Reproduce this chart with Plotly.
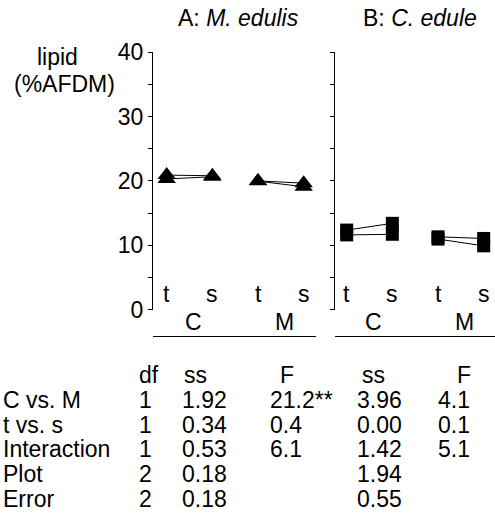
import plotly.graph_objects as go

W, H = 495, 518
FONT = "Liberation Sans, Arial, sans-serif"
FS = 23

def px_x(x):
    return x / W

def px_y(y):
    return 1 - y / H

# ---- data ----
positions = [0, 1, 2, 3]
level_labels = ["t", "s", "t", "s"]
group_labels = ["C", "M"]
group_centers = [0.58, 2.57]

# Panel A: M. edulis (two plots per site), lipid %AFDM
a_c_t = [20.9, 20.3]
a_c_s = [20.8, 20.65]
a_m_t = [20.0, 19.95]
a_m_s = [19.65, 19.1]
# Panel B: C. edule
b_c_t = [12.35, 11.6]
b_c_s = [13.4, 11.7]
b_m_t = [11.3, 10.95]
b_m_s = [11.05, 9.9]

y_ticks = [0, 10, 20, 30, 40]

row_names = ["C vs. M", "t vs. s", "Interaction", "Plot", "Error"]
df_vals = ["1", "1", "1", "2", "2"]
a_ss = ["1.92", "0.34", "0.53", "0.18", "0.18"]
a_F = ["21.2**", "0.4", "6.1", "", ""]
b_ss = ["3.96", "0.00", "1.42", "1.94", "0.55"]
b_F = ["4.1", "0.1", "5.1", "", ""]

fig = go.Figure()

def add_pairs(t_vals, s_vals, g, xa, ya, symbol, size):
    for t, s in zip(t_vals, s_vals):
        fig.add_trace(go.Scatter(
            x=[positions[2 * g], positions[2 * g + 1]], y=[t, s],
            mode="lines+markers", xaxis=xa, yaxis=ya,
            line=dict(color="black", width=1),
            marker=dict(symbol=symbol, size=size, color="black"),
            showlegend=False, hoverinfo="skip", cliponaxis=False))

add_pairs(a_c_t, a_c_s, 0, "x", "y", "triangle-up", 16)
add_pairs(a_m_t, a_m_s, 1, "x", "y", "triangle-up", 16)
add_pairs(b_c_t, b_c_s, 0, "x2", "y2", "square", 13)
add_pairs(b_m_t, b_m_s, 1, "x2", "y2", "square", 13)

ydom = [px_y(309.5), px_y(52.3)]
xline_pos = px_y(335.5)

common_x = dict(showgrid=False, zeroline=False, showticklabels=False, ticks="",
                showline=True, linecolor="black", linewidth=1, anchor="free",
                position=xline_pos, fixedrange=True, automargin=False)
common_y = dict(domain=ydom, range=[0, 40], showgrid=False, zeroline=False,
                showline=True, linecolor="black", linewidth=1,
                ticks="outside", ticklen=4, tickcolor="black",
                tickvals=y_ticks, automargin=False, fixedrange=True,
                minor=dict(dtick=5, ticks="outside", ticklen=4, tickcolor="black"))

fig.update_layout(
    template="none",
    width=W, height=H, autosize=False,
    margin=dict(l=0, r=0, t=0, b=0, pad=0),
    paper_bgcolor="white", plot_bgcolor="white",
    font=dict(family=FONT, size=FS, color="black"),
    xaxis=dict(domain=[px_x(153), px_x(316)], range=[-0.3, 3.27], **common_x),
    xaxis2=dict(domain=[px_x(335), 1.0], range=[-0.256, 3.248], **common_x),
    yaxis=dict(anchor="x", showticklabels=True,
               tickfont=dict(size=FS, family=FONT, color="black"), **common_y),
    yaxis2=dict(anchor="x2", showticklabels=False, **common_y),
)

ann = []
def text(x, y, s, xref="paper", xanchor="center"):
    ann.append(dict(x=x, y=y, xref=xref, yref="paper", text=s, showarrow=False,
                    xanchor=xanchor, yanchor="middle",
                    font=dict(family=FONT, size=FS, color="black")))

# titles
text(px_x(238), px_y(18), "A: <i>M. edulis</i>")
text(px_x(420), px_y(18), "B: <i>C. edule</i>")
text(px_x(57.5), px_y(57), "lipid")
text(px_x(64), px_y(84), "(%AFDM)")

# level & group labels
for xr in ["x", "x2"]:
    for p, lab in zip(positions, level_labels):
        text(p, px_y(294), lab, xref=xr)
    for c, lab in zip(group_centers, group_labels):
        text(c, px_y(322), lab, xref=xr)

# table
col_x_head = [137, 182, 278, 360, 455]
col_x_val = [137, 180, 268, 355, 436]
headers = ["df", "ss", "F", "ss", "F"]
row_y0, row_dy = 375, 24.8
for cx, h in zip(col_x_head, headers):
    text(px_x(cx), px_y(row_y0), h, xanchor="left")
cols = [df_vals, a_ss, a_F, b_ss, b_F]
for i, name in enumerate(row_names):
    y = px_y(row_y0 + row_dy * (i + 1))
    text(px_x(1), y, name, xanchor="left")
    for cx, col in zip(col_x_val, cols):
        if col[i]:
            text(px_x(cx), y, col[i], xanchor="left")

fig.update_layout(annotations=ann)
fig.write_html(
    "out.html",
    config={"displayModeBar": False, "staticPlot": True},
    post_script="document.body.style.margin='0';document.body.style.overflow='hidden';",
)
